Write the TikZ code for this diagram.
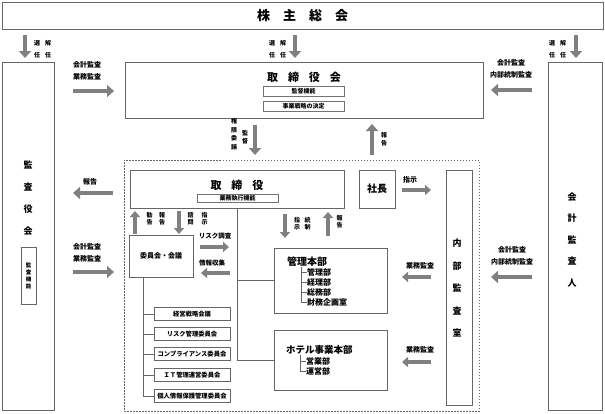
\documentclass[tikz,border=0pt]{standalone}
\usepackage{fontspec}
\setmainfont{Noto Sans CJK JP}
\usetikzlibrary{arrows.meta}

\tikzset{
  box/.style={draw=black!60, line width=0.6pt, inner sep=0pt},
  dotbox/.style={draw=black!60, line width=0.5pt, dash pattern=on 1.5pt off 1.5pt, inner sep=0pt},
  subbox/.style={draw=black!55, line width=0.8pt, inner sep=0pt, font=\fontsize{6}{6}\selectfont\bfseries},
  cbox/.style={box, minimum width=76pt, minimum height=13pt, font=\fontsize{6.3}{6.3}\selectfont\bfseries},
  lbl/.style={inner sep=0pt, align=center, font=\fontsize{7}{12}\selectfont\bfseries},
  vlbl/.style={inner sep=0pt, align=center, font=\fontsize{6}{#1}\selectfont\bfseries},
  vlbl/.default=7,
  garrow/.style={draw=black!50, line width=4.5pt, -{Triangle[width=12pt,length=7pt]}},
  sarrow/.style={draw=black!50, line width=4pt, -{Triangle[width=10pt,length=6pt]}},
  tline/.style={draw=black!60, line width=0.6pt},
}

\begin{document}
\begin{tikzpicture}[x=1pt,y=-1pt]
\useasboundingbox (0,0) rectangle (605,413);

% main boxes
\node[box, minimum width=601pt, minimum height=27pt, font=\fontsize{13}{13}\selectfont\bfseries] (soukai) at (302.5,15.5) {株\hspace{1em}主\hspace{1em}総\hspace{1em}会};
\node[box, minimum width=52pt, minimum height=348pt] (kansayaku) at (28,236) {};
\node[box, minimum width=54pt, minimum height=348pt] (kaikei) at (575,236) {};
\node[box, minimum width=358pt, minimum height=56pt] (torikai) at (304,90) {};
\node[dotbox, minimum width=355pt, minimum height=251pt] (shikkou) at (301.5,285.5) {};

% texts in the tall boxes
\node[inner sep=0pt, align=center, font=\fontsize{9}{22}\selectfont\bfseries] (kansayaku-t) at (28,198) {監\\査\\役\\会};
\node[box, minimum width=15pt, minimum height=57pt, align=center, font=\fontsize{5.5}{7}\selectfont\bfseries] (kansakinou) at (28.5,275.5) {監\\査\\機\\能};
\node[inner sep=0pt, align=center, font=\fontsize{9}{21.5}\selectfont\bfseries] (kaikei-t) at (572,240) {会\\計\\監\\査\\人};

% 取締役会
\node[inner sep=0pt, font=\fontsize{11}{11}\selectfont\bfseries] (torikai-t) at (304,77) {取\hspace{0.9em}締\hspace{0.9em}役\hspace{0.9em}会};
\node[subbox, minimum width=81pt, minimum height=10pt] (kantoku) at (303.5,91) {監督機能};
\node[subbox, minimum width=81pt, minimum height=10pt] (senryaku) at (303.5,106) {事業戦略の決定};

% executive part
\node[box, minimum width=214pt, minimum height=38pt] (torishimari) at (237,189) {};
\node[inner sep=0pt, font=\fontsize{11}{11}\selectfont\bfseries] (torishimari-t) at (237,185) {取\hspace{0.9em}締\hspace{0.9em}役};
\node[subbox, minimum width=81pt, minimum height=8pt] (gyoumu) at (237.5,198) {業務執行機能};
\node[box, minimum width=36pt, minimum height=38pt, font=\fontsize{10}{10}\selectfont\bfseries] (shachou) at (377,189) {社長};
\node[box, minimum width=26pt, minimum height=235pt] (naibu) at (459,287.5) {};
\node[inner sep=0pt, align=center, font=\fontsize{9}{22.5}\selectfont\bfseries] (naibu-t) at (457,288) {内\\部\\監\\査\\室};
\node[box, minimum width=64pt, minimum height=42pt, font=\fontsize{7}{7}\selectfont\bfseries] (iinkai) at (161,256) {委員会・会議};

% 管理本部
\node[box, minimum width=113pt, minimum height=65pt] (kanri) at (330.5,280.5) {};
\node[anchor=west, inner sep=0pt, font=\fontsize{10}{10}\selectfont\bfseries] (kanri-t) at (287,262) {管理本部};
\node[anchor=west, inner sep=0pt, font=\fontsize{8}{8}\selectfont\bfseries] (k1) at (307,272) {管理部};
\node[anchor=west, inner sep=0pt, font=\fontsize{8}{8}\selectfont\bfseries] (k2) at (307,282) {経理部};
\node[anchor=west, inner sep=0pt, font=\fontsize{8}{8}\selectfont\bfseries] (k3) at (307,292) {総務部};
\node[anchor=west, inner sep=0pt, font=\fontsize{8}{8}\selectfont\bfseries] (k4) at (307,302) {財務企画室};
\coordinate (ktree) at (301,267);
\draw[tline] (ktree) |- (k4.west);
\foreach \k in {k1,k2,k3} \draw[tline] (ktree |- \k.west) -- (\k.west);

% ホテル事業本部
\node[box, minimum width=113pt, minimum height=60pt] (hotel) at (330.5,360) {};
\node[anchor=west, inner sep=0pt, font=\fontsize{9.5}{9.5}\selectfont\bfseries] (hotel-t) at (286,350) {ホテル事業本部};
\node[anchor=west, inner sep=0pt, font=\fontsize{8}{8}\selectfont\bfseries] (h1) at (306,361) {営業部};
\node[anchor=west, inner sep=0pt, font=\fontsize{8}{8}\selectfont\bfseries] (h2) at (306,371) {運営部};
\coordinate (htree) at (300,355);
\draw[tline] (htree) |- (h2.west);
\draw[tline] (htree |- h1.west) -- (h1.west);

% tree from 取締役
\draw[tline] (torishimari.south) |- (hotel.west);
\draw[tline] (torishimari.south |- kanri.west) -- (kanri.west);

% committees
\node[cbox] (c1) at (192,314) {経営戦略会議};
\node[cbox] (c2) at (192,334) {リスク管理委員会};
\node[cbox] (c3) at (192,354) {コンプライアンス委員会};
\node[cbox] (c4) at (192,375) {ＩＴ管理運営委員会};
\node[cbox] (c5) at (192,396) {個人情報保護管理委員会};
\coordinate (ctree) at ([xshift=15pt]iinkai.south west);
\draw[tline] (ctree) |- (c5.west);
\foreach \c in {c1,c2,c3,c4} \draw[tline] (ctree |- \c.west) -- (\c.west);

% 選任・解任
\coordinate (sa1) at (25,35); \coordinate (sa2) at (25,58);
\draw[garrow] (sa1) -- (sa2);
\node[vlbl=12] (sa-l1) at (37,49) {選\\任};
\node[vlbl=12] (sa-l2) at (48,49) {解\\任};
\coordinate (sb1) at (295,35); \coordinate (sb2) at (295,58);
\draw[garrow] (sb1) -- (sb2);
\node[vlbl=12] (sb-l1) at (272,49) {選\\任};
\node[vlbl=12] (sb-l2) at (283,49) {解\\任};
\coordinate (sc1) at (576,35); \coordinate (sc2) at (576,58);
\draw[garrow] (sc1) -- (sc2);
\node[vlbl=12] (sc-l1) at (552,49) {選\\任};
\node[vlbl=12] (sc-l2) at (563,49) {解\\任};

% audits to 取締役会
\coordinate (ka1) at (73,91); \coordinate (ka2) at (114,91);
\draw[garrow] (ka1) -- (ka2);
\node[lbl] (ka-l) at (87,71) {会計監査\\業務監査};
\coordinate (kb1) at (532,90); \coordinate (kb2) at (491,90);
\draw[garrow] (kb1) -- (kb2);
\node[lbl] (kb-l) at (511,69) {会計監査\\内部統制監査};

% 取締役会 <-> execution
\coordinate (ju1) at (255,125); \coordinate (ju2) at (255,155);
\draw[garrow] (ju1) -- (ju2);
\node[vlbl=8.5] (ju-l1) at (234,134) {権\\限\\委\\譲};
\node[vlbl=8] (ju-l2) at (245,137) {監\\督};
\coordinate (ho1) at (372,155); \coordinate (ho2) at (372,124);
\draw[garrow] (ho1) -- (ho2);
\node[vlbl=8] (ho-l) at (384,139) {報\\告};

% audits on the execution part
\coordinate (kc1) at (113,193); \coordinate (kc2) at (73,193);
\draw[garrow] (kc1) -- (kc2);
\node[lbl] (kc-l) at (90,182) {報告};
\coordinate (kd1) at (73,272); \coordinate (kd2) at (114,272);
\draw[garrow] (kd1) -- (kd2);
\node[lbl] (kd-l) at (87,253) {会計監査\\業務監査};
\coordinate (ke1) at (532,277); \coordinate (ke2) at (491,277);
\draw[garrow] (ke1) -- (ke2);
\node[lbl] (ke-l) at (512,256) {会計監査\\内部統制監査};

% 社長 and 内部監査室
\coordinate (sh1) at (402,190); \coordinate (sh2) at (431,190);
\draw[sarrow] (sh1) -- (sh2);
\node[lbl] (sh-l) at (410,180) {指示};
\coordinate (ga1) at (431,277); \coordinate (ga2) at (402,277);
\draw[sarrow] (ga1) -- (ga2);
\node[lbl] (ga-l) at (420,266) {業務監査};
\coordinate (gb1) at (431,362); \coordinate (gb2) at (402,362);
\draw[sarrow] (gb1) -- (gb2);
\node[lbl] (gb-l) at (420,350) {業務監査};

% 取締役 <-> 委員会
\coordinate (kk1) at (135,234); \coordinate (kk2) at (135,211);
\draw[sarrow] (kk1) -- (kk2);
\node[vlbl] (kk-l1) at (149.5,219) {勧\\告};
\node[vlbl] (kk-l2) at (162,219) {報\\告};
\coordinate (sm1) at (179,211); \coordinate (sm2) at (179,234);
\draw[sarrow] (sm1) -- (sm2);
\node[vlbl] (sm-l1) at (190.5,219) {諮\\問};
\node[vlbl] (sm-l2) at (204.5,219) {指\\示};
\coordinate (ri1) at (200,247); \coordinate (ri2) at (229,247);
\draw[sarrow] (ri1) -- (ri2);
\node[lbl, font=\fontsize{6.5}{6.5}\selectfont\bfseries] (ri-l) at (215,236) {リスク調査};
\coordinate (jo1) at (230,273); \coordinate (jo2) at (201,273);
\draw[sarrow] (jo1) -- (jo2);
\node[lbl, font=\fontsize{6.5}{6.5}\selectfont\bfseries] (jo-l) at (212,263) {情報収集};

% 取締役 <-> 本部
\coordinate (ts1) at (285,214); \coordinate (ts2) at (285,238);
\draw[sarrow] (ts1) -- (ts2);
\node[vlbl] (ts-l1) at (297,224) {指\\示};
\node[vlbl] (ts-l2) at (307.5,224) {統\\制};
\coordinate (hh1) at (328,236); \coordinate (hh2) at (328,212);
\draw[sarrow] (hh1) -- (hh2);
\node[vlbl] (hh-l) at (339.5,222) {報\\告};
\end{tikzpicture}
\end{document}
